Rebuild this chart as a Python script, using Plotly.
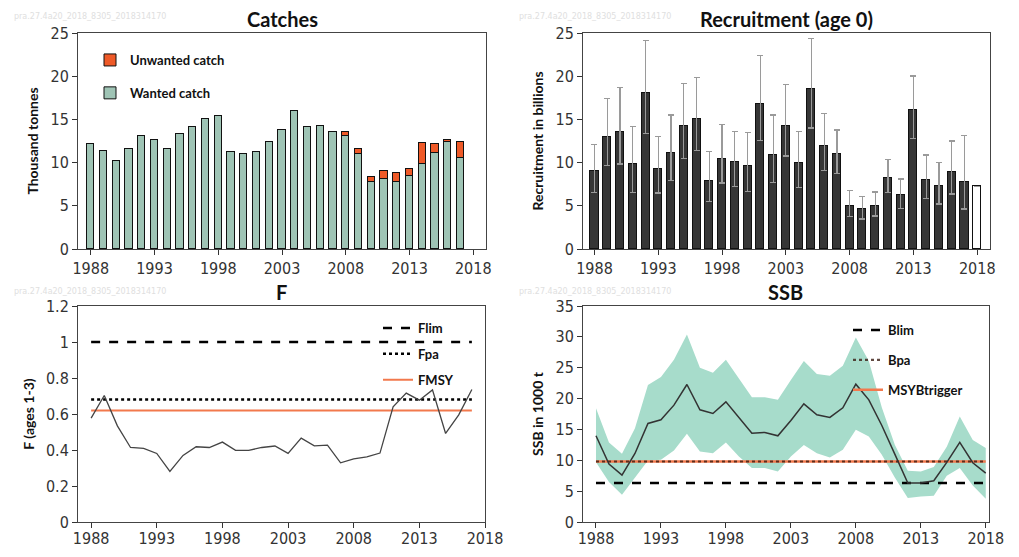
import plotly.graph_objects as go

years = list(range(1988, 2018))
rec_years = list(range(1988, 2019))
ssb_years = list(range(1988, 2019))

wanted = [12.15, 11.3, 10.15, 11.53, 13.08, 12.65, 11.53, 13.27, 14.16, 15.05, 15.39,
          11.27, 11.03, 11.27, 12.38, 13.77, 15.93, 14.16, 14.27, 13.54, 13.04,
          11.0, 7.75, 8.1, 7.75, 8.41, 9.88, 11.11, 12.38, 10.49]
unwanted = [0, 0, 0, 0, 0, 0, 0, 0, 0, 0, 0,
            0, 0, 0, 0, 0, 0, 0, 0, 0, 0.5,
            0.53, 0.54, 0.89, 1.01, 0.85, 2.39, 1.04, 0.27, 1.89]

recruit = [9.03, 12.92, 13.5, 9.8, 18.06, 9.26, 11.15, 14.2, 15.05, 7.91, 10.42,
           10.03, 9.57, 16.78, 10.92, 14.27, 9.92, 18.56, 11.88, 11.03, 5.02,
           4.63, 5.02, 8.26, 6.29, 16.05, 8.02, 7.29, 8.91, 7.75, 7.25]
rec_high = [12.11, 17.4, 18.67, 14.16, 24.15, 13.0, 15.5, 19.17, 19.87, 11.27, 14.39,
            13.62, 13.5, 22.41, 15.5, 19.06, 13.62, 24.38, 15.66, 13.77, 6.75,
            6.1, 6.6, 10.38, 8.1, 20.02, 10.88, 9.99, 12.5, 13.16, None]
rec_low = [6.56, 9.65, 9.84, 6.56, 13.39, 6.48, 7.9, 10.49, 11.42, 5.48, 7.64,
           7.25, 6.67, 12.54, 7.72, 10.76, 7.1, 14.0, 9.07, 8.72, 3.74,
           3.47, 3.82, 6.52, 4.67, 12.77, 5.83, 5.21, 6.37, 4.63, None]

f_values = [0.577, 0.703, 0.534, 0.414, 0.409, 0.381, 0.281, 0.37, 0.418, 0.414, 0.444,
            0.398, 0.398, 0.414, 0.422, 0.381, 0.466, 0.423, 0.427, 0.329, 0.351,
            0.362, 0.383, 0.64, 0.716, 0.677, 0.734, 0.492, 0.595, 0.736]
Flim, Fpa, FMSY = 1.0, 0.68, 0.62

ssb = [13.97, 9.38, 7.6, 11.1, 15.97, 16.56, 18.93, 22.28, 18.18, 17.58, 19.47,
       16.94, 14.4, 14.51, 13.97, 16.45, 19.15, 17.37, 16.94, 18.5, 22.33,
       19.8, 15.64, 11.0, 6.31, 6.31, 6.69, 9.65, 12.89, 9.6, 7.93]
ssb_high = [18.45, 12.9, 11.06, 15.2, 22.2, 23.5, 26.3, 30.4, 25.0, 24.2, 26.3,
            23.2, 20.2, 20.2, 19.8, 23.0, 26.1, 24.0, 23.7, 25.3, 29.9,
            26.1, 18.55, 12.5, 8.3, 8.2, 8.9, 12.2, 17.1, 13.3, 12.0]
ssb_low = [9.7, 6.47, 4.42, 7.12, 9.98, 10.09, 11.6, 14.3, 11.43, 11.16, 12.9,
           10.63, 8.74, 8.74, 8.2, 10.63, 12.46, 11.16, 10.46, 11.7, 14.94,
           13.86, 10.9, 7.23, 3.88, 4.15, 4.26, 7.5, 8.74, 5.93, 3.78]
Blim, Bpa, MSYBtrigger = 6.3, 9.8, 9.8

year_ticks = [1988, 1993, 1998, 2003, 2008, 2013, 2018]
watermark = "pra.27.4a20_2018_8305_2018314170"

WANTED_C = "#9fc4b5"
UNWANTED_C = "#ef5a28"
ORANGE = "#f2794d"
BAND_C = "#a7dccb"

TICKFONT = dict(family="Liberation Sans Narrow, DejaVu Sans Condensed, Arial", size=16, color="#333333")
BOLD = dict(family="Lato, Carlito, Open Sans", weight="bold", color="#111111")

fig = go.Figure()

# Catches
fig.add_trace(go.Bar(x=years, y=wanted, name="Wanted catch", marker=dict(color=WANTED_C, line=dict(color="#111", width=1)),
                     width=0.58, xaxis="x", yaxis="y", legend="legend", legendgroup="w", legendrank=2))
fig.add_trace(go.Bar(x=years, y=unwanted, name="Unwanted catch", marker=dict(color=UNWANTED_C, line=dict(color="#111", width=1)),
                     width=0.58, xaxis="x", yaxis="y", legend="legend", legendgroup="u", legendrank=1))

# Recruitment
err_plus = [None if h is None else h - v for h, v in zip(rec_high, recruit)]
err_minus = [None if l is None else v - l for l, v in zip(rec_low, recruit)]
rec_colors = ["#363636"] * (len(recruit) - 1) + ["#ffffff"]
fig.add_trace(go.Bar(x=rec_years, y=recruit, marker=dict(color=rec_colors, line=dict(color="#111", width=1)),
                     width=0.63, showlegend=False, xaxis="x2", yaxis="y2",
                     error_y=dict(type="data", array=err_plus, arrayminus=err_minus, symmetric=False,
                                  color="#9a9a9a", thickness=1.2, width=3)))

# F
fig.add_trace(go.Scatter(x=[years[0], years[-1]], y=[Flim, Flim], mode="lines", name="Flim",
                         line=dict(color="#000", width=2.5, dash="dash"), xaxis="x3", yaxis="y3",
                         legend="legend2", legendgroup="a"))
fig.add_trace(go.Scatter(x=[years[0], years[-1]], y=[Fpa, Fpa], mode="lines", name="Fpa",
                         line=dict(color="#000", width=2.5, dash="dot"), xaxis="x3", yaxis="y3",
                         legend="legend2", legendgroup="b"))
fig.add_trace(go.Scatter(x=[years[0], years[-1]], y=[FMSY, FMSY], mode="lines", name="FMSY",
                         line=dict(color=ORANGE, width=2), xaxis="x3", yaxis="y3",
                         legend="legend2", legendgroup="c"))
fig.add_trace(go.Scatter(x=years, y=f_values, mode="lines", line=dict(color="#444", width=1.3),
                         showlegend=False, xaxis="x3", yaxis="y3"))

# SSB
fig.add_trace(go.Scatter(x=ssb_years, y=ssb_low, mode="lines", line=dict(width=0, color=BAND_C),
                         showlegend=False, xaxis="x4", yaxis="y4", hoverinfo="skip"))
fig.add_trace(go.Scatter(x=ssb_years, y=ssb_high, mode="lines", line=dict(width=0, color=BAND_C),
                         fill="tonexty", fillcolor=BAND_C, showlegend=False, xaxis="x4", yaxis="y4", hoverinfo="skip"))
fig.add_trace(go.Scatter(x=[ssb_years[0], ssb_years[-1]], y=[Blim, Blim], mode="lines", name="Blim",
                         line=dict(color="#000", width=2.5, dash="dash"), xaxis="x4", yaxis="y4",
                         legend="legend3", legendgroup="a", legendrank=1))
fig.add_trace(go.Scatter(x=[ssb_years[0], ssb_years[-1]], y=[MSYBtrigger, MSYBtrigger], mode="lines", name="MSYBtrigger",
                         line=dict(color=ORANGE, width=2.5), xaxis="x4", yaxis="y4",
                         legend="legend3", legendgroup="c", legendrank=3))
fig.add_trace(go.Scatter(x=[ssb_years[0], ssb_years[-1]], y=[Bpa, Bpa], mode="lines", name="Bpa",
                         line=dict(color="#3a1c12", width=2.2, dash="dot"), xaxis="x4", yaxis="y4",
                         legend="legend3", legendgroup="b", legendrank=2, opacity=0.8))
fig.add_trace(go.Scatter(x=ssb_years, y=ssb, mode="lines", line=dict(color="#333", width=1.5),
                         showlegend=False, xaxis="x4", yaxis="y4"))

# page body has an 8px margin: the figure is offset by OFF px
OFF = 8
W, H = 1019 - 2 * OFF, 557 - 2 * OFF
def px(v):
    return (v - OFF) / W
def py(v):
    return 1 - (v - OFF) / H

def xax(domain, rng, anchor, standoff=None):
    d = dict(domain=domain, range=rng, anchor=anchor, tickvals=year_ticks, ticks="outside", ticklen=5,
             tickcolor="#333", showline=True, linecolor="#444", linewidth=1, mirror=True,
             showgrid=False, zeroline=False, tickfont=TICKFONT, automargin=False)
    if standoff is not None:
        d["ticklabelstandoff"] = standoff
    return d

def yax(domain, rng, dtick, anchor, title):
    return dict(domain=domain, range=rng, anchor=anchor, dtick=dtick, ticks="outside", ticklen=5,
                tickcolor="#333", showline=True, linecolor="#444", linewidth=1, mirror=True,
                showgrid=False, zeroline=False, tickfont=TICKFONT, automargin=False,
                title=dict(text=title, font=dict(size=14, **BOLD), standoff=8))

top_dom = [py(249), py(33)]
bot_dom = [py(522), py(306)]

legend_common = dict(bgcolor="rgba(0,0,0,0)", font=dict(size=13, **BOLD), xanchor="left", yanchor="top",
                     itemclick=False, itemdoubleclick=False)

fig.update_layout(
    width=W, height=H, margin=dict(l=0, r=0, t=0, b=0, autoexpand=False),
    paper_bgcolor="white", plot_bgcolor="white",
    barmode="stack", bargap=0,
    xaxis=xax([px(78), px(486)], [1987, 2019], "y"),
    yaxis=yax(top_dom, [0, 25], 5, "x", "Thousand tonnes"),
    xaxis2=xax([px(583), px(990)], [1987.1, 2019], "y2"),
    yaxis2=yax(top_dom, [0, 25], 5, "x2", "Recruitment in billions"),
    xaxis3=xax([px(78), px(485)], [1987, 2018], "y3", standoff=-3),
    yaxis3=yax(bot_dom, [0, 1.2], 0.2, "x3", "F (ages 1-3)"),
    xaxis4=xax([px(583), px(989)], [1987, 2018.25], "y4", standoff=-3),
    yaxis4=yax(bot_dom, [0, 35], 5, "x4", "SSB in 1000 t"),
    legend=dict(x=px(90), y=py(45), tracegroupgap=13, **legend_common),
    legend2=dict(x=px(378), y=py(313), tracegroupgap=6, **legend_common),
    legend3=dict(x=px(848), y=py(315), tracegroupgap=10, **legend_common),
    showlegend=True,
)

titles = [("Catches", px(282), py(19)), ("Recruitment (age 0)", px(786), py(19)),
          ("F", px(281), py(292)), ("SSB", px(785), py(292))]
for text, x, y in titles:
    fig.add_annotation(text=text, x=x, y=y, xref="paper", yref="paper", showarrow=False,
                       font=dict(size=20, **BOLD), xanchor="center", yanchor="middle")

for x, y in [(12, 17), (517, 17), (12, 291), (517, 291)]:
    fig.add_annotation(text=watermark, x=px(x), y=py(y), xref="paper", yref="paper", showarrow=False,
                       font=dict(size=8, color="#e0e0e0", family="DejaVu Sans"), xanchor="left", yanchor="middle")

fig.write_html("out.html")
